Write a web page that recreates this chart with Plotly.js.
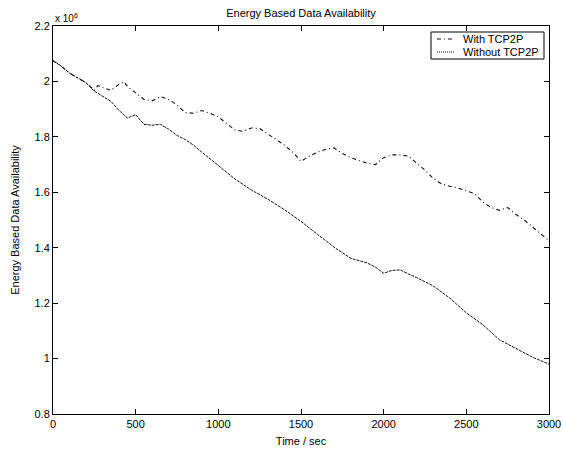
<!DOCTYPE html>
<html>
<head>
<meta charset="utf-8">
<script src="https://cdn.plot.ly/plotly-3.0.1.min.js"></script>
<style>html,body{margin:0;padding:0;background:#fff;}#chart{width:563px;height:451px;}</style>
</head>
<body>
<div id="chart"></div>
<script>
// Time (s) and Energy Based Data Availability (x 10^6)
var tWithout = [0,50,100,150,200,250,300,350,400,450,500,550,600,650,700,750,800,850,900,950,1000,1100,1200,1300,1400,1500,1600,1700,1800,1900,1950,2000,2050,2100,2150,2200,2300,2400,2500,2600,2700,2800,2900,3000];
var vWithout = [2.075,2.055,2.030,2.012,1.995,1.965,1.948,1.928,1.895,1.868,1.880,1.845,1.842,1.845,1.828,1.805,1.790,1.770,1.745,1.720,1.697,1.648,1.608,1.575,1.537,1.495,1.448,1.402,1.362,1.345,1.330,1.308,1.318,1.320,1.305,1.292,1.262,1.218,1.165,1.122,1.068,1.035,1.005,0.980];

var tWith = [0,50,100,150,200,250,270,300,350,400,430,450,500,550,600,650,700,750,800,850,900,950,1000,1050,1100,1150,1200,1250,1300,1350,1400,1450,1500,1550,1600,1650,1700,1750,1800,1850,1900,1950,2000,2050,2100,2150,2200,2250,2300,2350,2400,2450,2500,2550,2600,2650,2700,2750,2800,2850,2900,2950,3000];
var vWith = [2.075,2.055,2.030,2.012,1.995,1.968,1.985,1.978,1.968,1.990,1.998,1.982,1.960,1.935,1.930,1.945,1.935,1.915,1.888,1.885,1.895,1.885,1.872,1.850,1.825,1.820,1.832,1.830,1.810,1.790,1.770,1.745,1.712,1.730,1.745,1.755,1.760,1.740,1.725,1.715,1.705,1.700,1.725,1.735,1.735,1.730,1.705,1.680,1.650,1.630,1.622,1.615,1.605,1.595,1.565,1.545,1.535,1.545,1.520,1.500,1.475,1.450,1.425];

var xTicks = [0,500,1000,1500,2000,2500,3000];
var yTicks = [0.8,1.0,1.2,1.4,1.6,1.8,2.0,2.2];
var yTickText = ['0.8','1','1.2','1.4','1.6','1.8','2','2.2'];
var seriesNames = ['With TCP2P', 'Without TCP2P'];

var font = 'Liberation Sans, Arial, Helvetica, sans-serif';
var dashWith = '4px,3px,1px,3px';
var dashWithout = '3px,1px';

var traces = [
  {x: tWith, y: vWith, type: 'scatter', mode: 'lines', name: seriesNames[0],
   line: {color: '#111', width: 1.1, dash: dashWith}},
  {x: tWithout, y: vWithout, type: 'scatter', mode: 'lines', name: seriesNames[1],
   line: {color: '#111', width: 1, dash: dashWithout}}
];

var axisCommon = {
  showline: true, linecolor: '#000', linewidth: 1, mirror: 'ticks',
  ticks: 'inside', ticklen: 5, tickcolor: '#000', tickwidth: 1,
  showgrid: false, zeroline: false,
  tickfont: {family: font, size: 11, color: '#000'}
};

// legend box (drawn manually for compact MATLAB-like look)
var px = function (x) { return (x - 53) / 496; };
var py = function (y) { return (414 - y) / 388; };

var layout = {
  width: 563, height: 451,
  margin: {l: 53, r: 14, t: 26, b: 37, pad: 0},
  paper_bgcolor: '#fff', plot_bgcolor: '#fff',
  showlegend: false,
  title: {text: 'Energy Based Data Availability', font: {family: font, size: 11, color: '#000'},
          x: 0.5, xref: 'paper', xanchor: 'center', y: 1 - 13/451, yref: 'container', yanchor: 'middle'},
  xaxis: Object.assign({}, axisCommon, {
    range: [0, 3000], tickvals: xTicks, ticktext: xTicks.map(String),
    title: {text: 'Time / sec', font: {family: font, size: 11, color: '#000'}, standoff: 8}
  }),
  yaxis: Object.assign({}, axisCommon, {
    range: [0.8, 2.2], tickvals: yTicks, ticktext: yTickText,
    title: {text: 'Energy Based Data Availability', font: {family: font, size: 11, color: '#000'}, standoff: 12}
  }),
  shapes: [
    {type: 'rect', xref: 'paper', yref: 'paper', x0: px(431), x1: px(544), y0: py(59), y1: py(32),
     line: {color: '#000', width: 1}, fillcolor: '#fff', layer: 'above'},
    {type: 'line', xref: 'paper', yref: 'paper', x0: px(437), x1: px(454), y0: py(39), y1: py(39),
     line: {color: '#111', width: 1.1, dash: dashWith}, layer: 'above'},
    {type: 'line', xref: 'paper', yref: 'paper', x0: px(437), x1: px(454), y0: py(52), y1: py(52),
     line: {color: '#111', width: 1, dash: '1px,1px'}, layer: 'above'}
  ],
  annotations: [
    {text: 'x 10<sup>6</sup>', xref: 'paper', yref: 'paper', x: 0, y: 1, xanchor: 'left', yanchor: 'bottom',
     showarrow: false, font: {family: font, size: 10, color: '#000'}},
    {text: seriesNames[0], xref: 'paper', yref: 'paper', x: px(461), y: py(39), xanchor: 'left', yanchor: 'middle',
     showarrow: false, font: {family: font, size: 11, color: '#000'}},
    {text: seriesNames[1], xref: 'paper', yref: 'paper', x: px(461), y: py(52), xanchor: 'left', yanchor: 'middle',
     showarrow: false, font: {family: font, size: 11, color: '#000'}}
  ]
};

Plotly.newPlot('chart', traces, layout, {displayModeBar: false, staticPlot: true});
</script>
</body>
</html>
